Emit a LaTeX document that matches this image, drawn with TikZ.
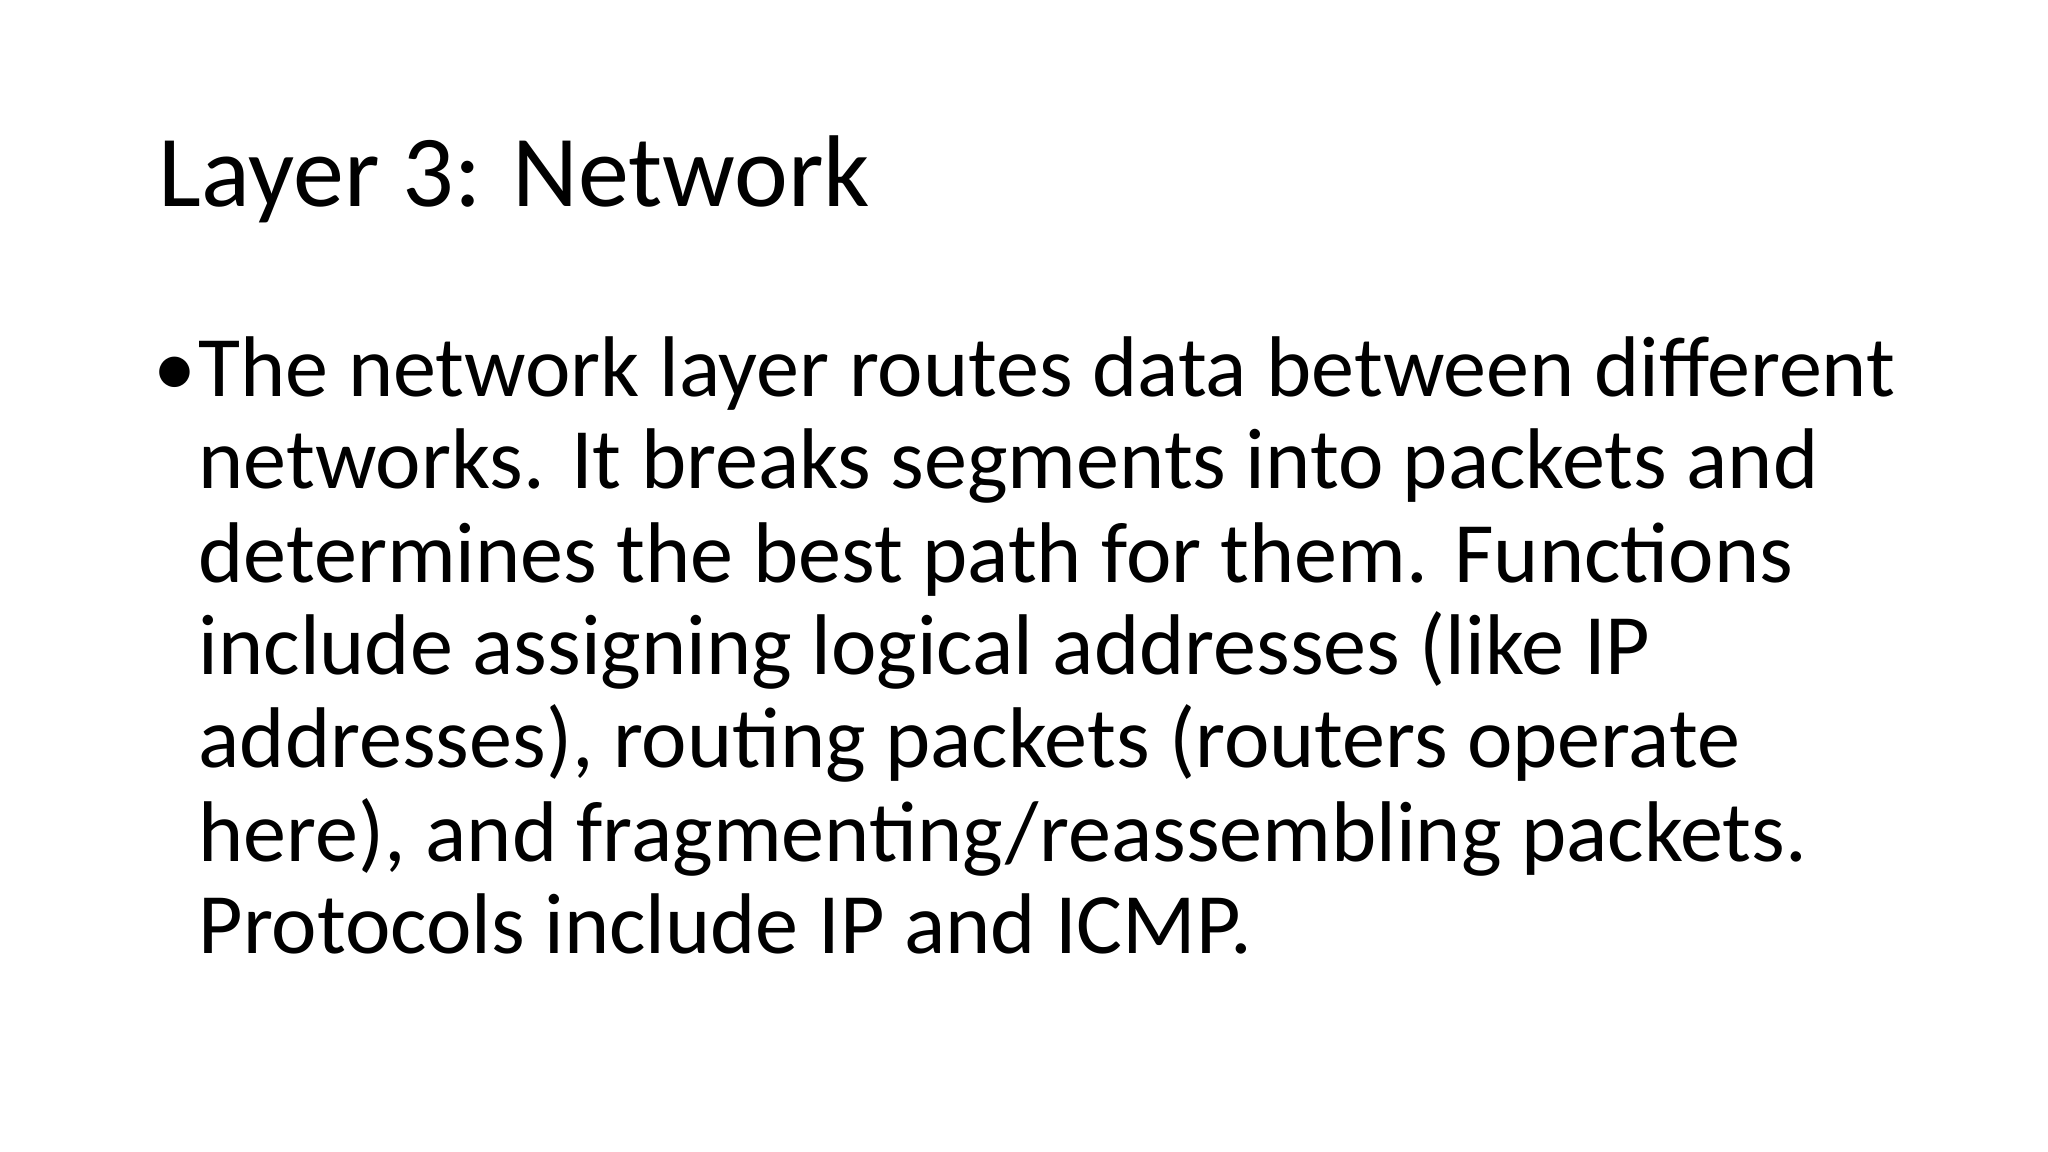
\documentclass[tikz,border=0pt]{standalone}
\usepackage{fontspec}
\setmainfont{Carlito}
\begin{document}
\begin{tikzpicture}[x=1cm,y=1cm,
  ln/.style={anchor=base west,inner sep=0pt,font=\fontsize{24.5pt}{26pt}\selectfont},
  ttl/.style={anchor=base west,inner sep=0pt,font=\fontsize{29pt}{32pt}\selectfont}]
\useasboundingbox[fill=white] (0,0) rectangle (20.48,-11.52);
\node[ttl] (title) at (1.58,-2.07) {Layer 3: Network};
\node[ln] (bul) at (1.53,-3.96) {•};
\node[ln] (l1) at (1.98,-3.96) {The network layer routes data between different};
\node[ln] (l2) at (1.98,-4.89) {networks. It breaks segments into packets and};
\node[ln] (l3) at (1.98,-5.82) {determines the best path for them. Functions};
\node[ln] (l4) at (1.98,-6.75) {include assigning logical addresses (like IP};
\node[ln] (l5) at (1.98,-7.68) {addresses), routing packets (routers operate};
\node[ln] (l6) at (1.98,-8.61) {here), and fragmenting/reassembling packets.};
\node[ln] (l7) at (1.98,-9.54) {Protocols include IP and ICMP.};
\end{tikzpicture}
\end{document}
